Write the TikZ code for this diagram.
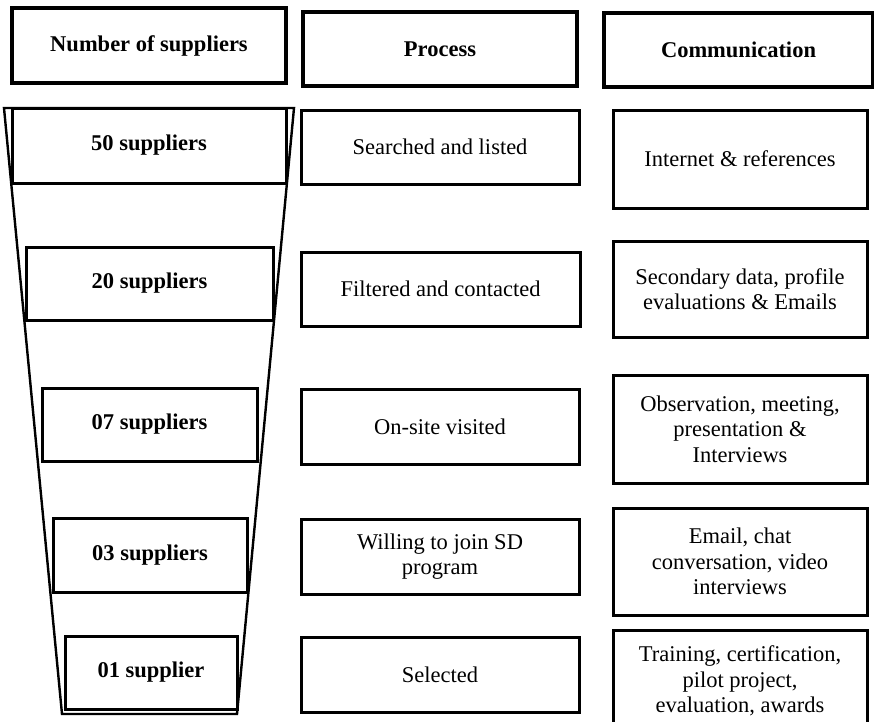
\documentclass[tikz,border=0pt]{standalone}
\usepackage{fontspec}
\setmainfont{Liberation Serif}
\begin{document}
\begin{tikzpicture}[x=1pt, y=-1pt,
  cell/.style={draw=black, line width=3pt, fill=white, inner sep=0pt,
    align=center, font=\fontsize{22.5}{25.5}\selectfont},
  headcell/.style={cell, line width=3.8pt, font=\fontsize{22.5}{25.5}\selectfont\bfseries},
  countcell/.style={cell, font=\fontsize{22.5}{25.5}\selectfont\bfseries},
  funnel/.style={draw=black, line width=2.4pt, line join=miter}]
\useasboundingbox (0,0) rectangle (874,721);
\clip (0,0) rectangle (874,721);

% column headers
\node[headcell, minimum width=274, minimum height=75] (hNum) at (149,45.5) {Number of suppliers};
\node[headcell, minimum width=274, minimum height=74] (hProc) at (440,49) {Process};
\node[headcell, minimum width=269, minimum height=74] (hComm) at (738.5,50) {Communication};

% funnel outline
\coordinate (fTL) at (4,108);
\coordinate (fTR) at (294,108);
\coordinate (fBR) at (237,714);
\coordinate (fBL) at (62,714);
\draw[funnel] (fTL) -- (fTR) -- (fBR) -- (fBL) -- cycle;

% supplier counts inside the funnel
\node[countcell, minimum width=274, minimum height=75] (n1) at (149,145.5) {50 suppliers};
\node[countcell, minimum width=247, minimum height=73] (n2) at (149.5,283.5) {20 suppliers};
\node[countcell, minimum width=215, minimum height=73] (n3) at (149.5,424.5) {07 suppliers};
\node[countcell, minimum width=194, minimum height=74] (n4) at (150,555) {03 suppliers};
\node[countcell, minimum width=172, minimum height=73] (n5) at (151,672.5) {01 supplier};

% process steps
\node[cell, minimum width=278, minimum height=74] (p1) at (440,147) {Searched and listed};
\node[cell, minimum width=279, minimum height=74] (p2) at (440.5,289) {Filtered and contacted};
\node[cell, minimum width=278, minimum height=75] (p3) at (440,426.5) {On-site visited};
\node[cell, minimum width=278, minimum height=75] (p4) at (440,556.5) {Willing to join SD\\program};
\node[cell, minimum width=278, minimum height=75] (p5) at (440,674.5) {Selected};

% communication channels
\node[cell, minimum width=254, minimum height=98] (c1) at (740,159) {Internet \& references};
\node[cell, minimum width=254, minimum height=96] (c2) at (740,289) {Secondary data, profile\\evaluations \& Emails};
\node[cell, minimum width=254, minimum height=108] (c3) at (740,429) {Observation, meeting,\\presentation \&\\Interviews};
\node[cell, minimum width=254, minimum height=107] (c4) at (740,561.5) {Email, chat\\conversation, video\\interviews};
\node[cell, minimum width=254, minimum height=102] (c5) at (740,681) {Training, certification,\\pilot project,\\evaluation, awards};
\end{tikzpicture}
\end{document}
